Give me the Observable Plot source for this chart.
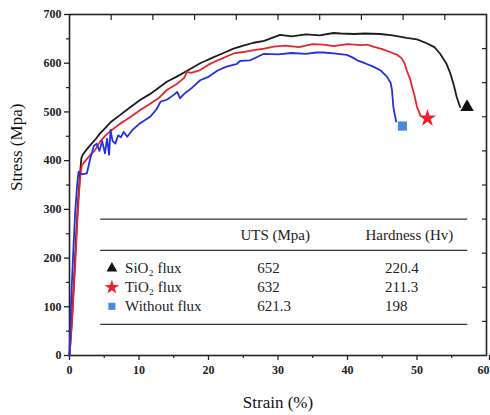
<!DOCTYPE html>
<html><head><meta charset="utf-8">
<script src="https://cdn.jsdelivr.net/npm/d3@7"></script>
<script src="https://cdn.jsdelivr.net/npm/@observablehq/plot@0.6"></script>
<style>body{margin:0;background:#fff}</style>
</head><body><div id="chart"></div>
<script>
// SiO2 flux
const sio2Strain = [0,0.3,0.6,0.9,1.2,1.5,1.7,1.9,2.3,3,3.8,4.4,5.2,6,7.3,8.5,10.2,11.5,12.5,14,15.5,17,18.8,19.6,20.5,22,23.6,25,26.5,28,30.3,32,34,36,38,39,41,42.5,44.7,46.5,48.5,50,51.4,52.5,53.3,54.2,54.8,55.3,55.7,56.2];
const sio2Stress = [0,60,140,230,310,370,405,412,420,432,445,456,468,480,494,507,525,536,546,562,573,585,600,605,611,620,630,636,642,646,658,655,659,657,662,661,660,661,660,657,652,649,641,633,620,600,579,555,531,510];
// TiO2 flux
const tio2Strain = [0,0.4,0.8,1.1,1.4,1.6,1.8,2.2,3,3.6,4.4,5.2,6,7.3,8.5,10.2,11.5,12.8,14,15.5,16.5,16.9,17.5,18.8,20,21.5,23.6,25,26.5,28,29.4,31,33,35,36.5,38,40,42,42.8,43.7,45,46.1,47.2,47.8,48.2,48.5,49,49.3,49.7,50,50.5];
const tio2Stress = [0,80,180,270,340,375,391,398,412,420,439,452,462,476,487,504,516,528,545,558,570,582,580,586,597,607,620,623,627,630,634,636,633,639,638,635,639,637,638,634,629,623,617,610,600,586,568,551,530,510,493];
// Without flux
const noneStrain = [0,0.2,0.5,0.8,1.1,1.3,1.8,2.5,3,3.5,3.9,4.3,4.7,5.1,5.4,5.7,5.9,6.2,6.6,7,7.4,7.8,8.3,9,10,11.6,12.5,13.1,14,15,15.5,15.9,16.5,17.5,18.8,20,21.3,22.6,24,24.6,26,27.9,30,32,34,35.5,36.5,38,39.9,40.7,41.4,42.5,43.7,44.8,45.7,46.2,46.4,46.6,46.8,47];
const noneStress = [0,100,200,290,350,377,372,374,405,430,435,420,440,415,445,412,463,440,435,452,448,459,449,462,475,490,505,521,525,535,541,528,537,548,565,572,585,593,598,605,606,619,618,621,619,622,622,620,617,612,606,600,593,585,572,560,545,510,495,480];

const seriesNames = ["SiO₂ flux", "TiO₂ flux", "Without flux"];
const endStrain = [57.2, 51.5, 47.9];
const endStress = [510, 487, 471];
const utsValues = ["652", "632", "621.3"];
const hardnessValues = ["220.4", "211.3", "198"];
const tableHeaders = ["UTS (Mpa)", "Hardness (Hv)"];

const lineColors = ["#1c1c1c", "#e8252b", "#2430dc"];
const markerColors = ["#111111", "#f0202a", "#4a8ad6"];
const symbols = ["triangle", "star", "square"];
const markerR = [5, 5.5, 5.2];
const legendR = [4, 4.6, 4];

const toRows = (xs, ys) => xs.map((x, i) => ({x, y: ys[i]}));
const curves = [toRows(sio2Strain, sio2Stress), toRows(tio2Strain, tio2Stress), toRows(noneStrain, noneStress)];

const rowY = [179, 140, 101];
const legendRows = seriesNames.map((n, i) => ({name: n, y: rowY[i], uts: utsValues[i], hv: hardnessValues[i], i}));

const serif = "'Liberation Serif', 'Times New Roman', serif";
const blank = () => "";

const marks = [
  Plot.frame({stroke: "#222", strokeWidth: 1.6}),
  Plot.axisY({ticks: d3.range(0, 701, 100), tickSize: 5, tickPadding: 3, fontWeight: "bold", fontSize: 12, label: null, fontFamily: serif, strokeWidth: 1.3}),
  Plot.axisY({ticks: d3.range(50, 700, 100), tickSize: 3, tickFormat: blank, label: null, strokeWidth: 1.2}),
  Plot.axisX({ticks: d3.range(0, 51, 10), tickSize: 5, tickPadding: 5, fontWeight: "bold", fontSize: 12, label: null, fontFamily: serif, strokeWidth: 1.3}),
  Plot.axisX({ticks: [60], tickSize: 5, tickPadding: 5, fontWeight: "bold", fontSize: 12, label: null, fontFamily: serif, strokeWidth: 1.3, textAnchor: "end", dx: 3}),
  Plot.axisX({ticks: d3.range(5, 60, 10), tickSize: 3, tickFormat: blank, label: null, strokeWidth: 1.2}),
  Plot.axisX({anchor: "top", ticks: d3.range(6, 60, 6), tickSize: 5, dy: 5, tickFormat: blank, label: null, strokeWidth: 1.2}),
  Plot.axisY({anchor: "right", ticks: d3.range(70, 700, 70), tickSize: 5, dx: -5, tickFormat: blank, label: null, strokeWidth: 1.2}),
  Plot.text(["Strain (%)"], {frameAnchor: "bottom", dy: 52, fontSize: 17, fontFamily: serif, fill: "#111"}),
  Plot.text(["Stress (Mpa)"], {frameAnchor: "left", dx: -53, dy: 6, rotate: -90, fontSize: 17, fontFamily: serif, fill: "#111"}),
];
curves.forEach((c, i) => {
  marks.push(Plot.line(c, {x: "x", y: "y", stroke: lineColors[i], strokeWidth: 1.8, curve: "linear"}));
});
seriesNames.forEach((n, i) => {
  marks.push(Plot.dot([{x: endStrain[i], y: endStress[i]}], {x: "x", y: "y", symbol: () => symbols[i], r: markerR[i], fill: markerColors[i], stroke: "none"}));
});
marks.push(
  Plot.ruleY([280, 216, 64], {x1: 4.5, x2: 57.3, stroke: "#333", strokeWidth: 1.3}),
  Plot.text(tableHeaders, {x: [29.6, 48.9], y: [247, 247], fontSize: 15, fontFamily: serif, fill: "#222"}),
  Plot.text(legendRows, {x: 8.0, y: "y", text: "name", textAnchor: "start", fontSize: 15, fontFamily: serif, fill: "#222"}),
  Plot.text(legendRows, {x: 27.0, y: "y", text: "uts", textAnchor: "start", fontSize: 15, fontFamily: serif, fill: "#222"}),
  Plot.text(legendRows, {x: 45.4, y: "y", text: "hv", textAnchor: "start", fontSize: 15, fontFamily: serif, fill: "#222"})
);
legendRows.forEach((r, i) => {
  marks.push(Plot.dot([r], {x: 6.1, y: "y", symbol: () => symbols[i], r: legendR[i], fill: markerColors[i], stroke: "none"}));
});

const chart = Plot.plot({
  width: 490, height: 415,
  marginLeft: 69, marginRight: 4, marginTop: 14, marginBottom: 60,
  x: {domain: [0, 60]}, y: {domain: [0, 700]},
  style: {fontFamily: serif, background: "#fff", color: "#222"},
  marks
});
document.getElementById("chart").append(chart);
</script>
</body></html>
